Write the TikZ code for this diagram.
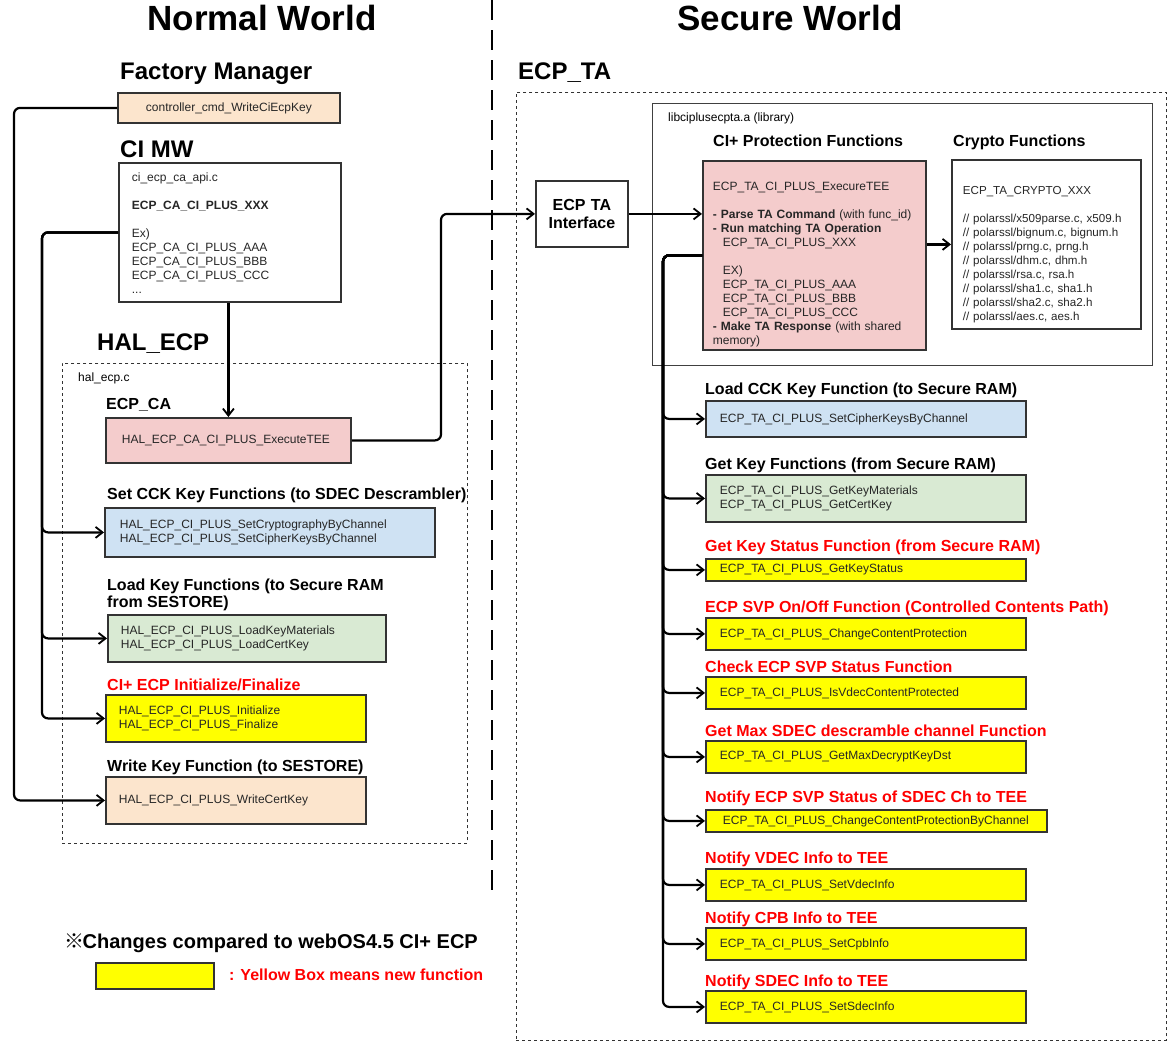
\documentclass[tikz,border=0pt]{standalone}
\usepackage{fontspec}
\setmainfont{Liberation Sans}
\newfontfamily\cjk{Noto Sans CJK JP}
\usetikzlibrary{arrows.meta}
\definecolor{peach}{HTML}{FCE5CD}
\definecolor{pinkf}{HTML}{F4CCCC}
\definecolor{bluef}{HTML}{CFE2F3}
\definecolor{greenf}{HTML}{D9EAD3}
\definecolor{yel}{HTML}{FFFF00}
\definecolor{bord}{HTML}{333333}
\definecolor{redt}{HTML}{FF0000}
\newcommand\fsz[2]{\fontsize{#1}{#2}\selectfont}
\tikzset{
  bx/.style={draw=bord, line width=1.8pt, anchor=north west, inner ysep=0pt, align=left, text=black!85, font=\fsz{12}{14}},
  hdbig/.style={anchor=base, font=\bfseries\fsz{35}{40}},
  hdmid/.style={anchor=base west, inner sep=0pt, font=\bfseries\fsz{24}{28}},
  hdsm/.style={anchor=base west, inner sep=0pt, font=\bfseries\fsz{16}{18}, align=left},
  hdred/.style={hdsm, text=redt},
  small/.style={anchor=base west, inner sep=0pt, font=\fsz{12}{14}},
  dbox/.style={draw=black!80, line width=0.9pt, dash pattern=on 3pt off 3pt, anchor=north west, inner sep=0pt},
  conn/.style={draw=black, line width=2.2pt, rounded corners=6pt, -{Straight Barb[length=7pt,width=11pt,line width=1.8pt]}},
}
\begin{document}
\begin{tikzpicture}[x=1pt,y=-1pt]
\useasboundingbox (0,0) rectangle (1172,1052);
\fill[white] (0,0) rectangle (1172,1052);

% titles
\node[hdbig] (nw) at (262,30) {Normal World};
\node[hdbig] (sw) at (790,30) {Secure World};
\draw[line width=2pt, dash pattern=on 20pt off 10pt] (492,0) -- (492,895);

% ---------- Normal world ----------
\node[hdmid] (fmlab) at (120,79) {Factory Manager};
\node[bx, fill=peach, minimum width=222pt, minimum height=30pt, text width=222pt, inner xsep=0pt, align=center] (ctrl) at (117,92) {controller\_cmd\_WriteCiEcpKey};

\node[hdmid] (cimwlab) at (120,157) {CI MW};
\node[bx, fill=white, minimum height=139pt, text width=196pt, inner xsep=13pt] (cimw) at (118,162)
 {\rule{0pt}{11pt}ci\_ecp\_ca\_api.c\\[14pt]\textbf{ECP\_CA\_CI\_PLUS\_XXX}\\[14pt]Ex)\\ECP\_CA\_CI\_PLUS\_AAA\\ECP\_CA\_CI\_PLUS\_BBB\\ECP\_CA\_CI\_PLUS\_CCC\\...};

\node[hdmid] (hallab) at (97,350) {HAL\_ECP};
\node[dbox, minimum width=405pt, minimum height=480pt] (hal) at (62,363) {};
\node[small] (halc) at (78,381) {hal\_ecp.c};

\node[hdsm] (ecpcalab) at (106,409) {ECP\_CA};
\node[bx, fill=pinkf, minimum height=45pt, text width=213pt, inner xsep=16pt] (ecpca) at (105,417) {HAL\_ECP\_CA\_CI\_PLUS\_ExecuteTEE};

\node[hdsm] (cckl) at (107,499) {Set CCK Key Functions (to SDEC Descrambler)};
\node[bx, fill=bluef, minimum height=49pt, text width=300pt, inner xsep=15pt] (cck) at (104,507) {HAL\_ECP\_CI\_PLUS\_SetCryptographyByChannel\\HAL\_ECP\_CI\_PLUS\_SetCipherKeysByChannel};

\node[hdsm] (loadl) at (107,590) {Load Key Functions (to Secure RAM};
\node[hdsm] (loadl2) at (107,607) {from SESTORE)};
\node[bx, fill=greenf, minimum height=47pt, text width=252pt, inner xsep=13pt] (load) at (107,614) {HAL\_ECP\_CI\_PLUS\_LoadKeyMaterials\\HAL\_ECP\_CI\_PLUS\_LoadCertKey};

\node[hdred] (initl) at (107,690) {CI+ ECP Initialize/Finalize};
\node[bx, fill=yel, minimum height=47pt, text width=234pt, inner xsep=13pt] (init) at (105,694) {HAL\_ECP\_CI\_PLUS\_Initialize\\HAL\_ECP\_CI\_PLUS\_Finalize};

\node[hdsm] (wrl) at (107,771) {Write Key Function (to SESTORE)};
\node[bx, fill=peach, minimum height=47pt, text width=234pt, inner xsep=13pt] (wr) at (105,776) {HAL\_ECP\_CI\_PLUS\_WriteCertKey};

% legend
\node[anchor=base west, inner sep=0pt, font=\bfseries\fsz{20}{24}] (legt) at (64,948) {{\cjk\fsz{20}{22}※}\hspace{-1.5pt}Changes compared to webOS4.5 CI+ ECP};
\node[bx, fill=yel, minimum width=118pt, minimum height=26pt, text width=118pt, inner xsep=0pt] (legbox) at (95,962) {};
\node[hdred] (legtxt) at (229,980) {: Yellow Box means new function};

% ---------- Secure world ----------
\node[hdmid] (tal) at (518,79) {ECP\_TA};
\node[dbox, minimum width=650pt, minimum height=948pt] (ta) at (516,92) {};

\node[bx, fill=white, minimum width=92pt, minimum height=66pt, text width=92pt, inner xsep=0pt, align=center, font=\bfseries\fsz{16}{18}, text=black] (iface) at (535,180) {ECP TA\\Interface};

\node[draw=black!75, line width=0.9pt, anchor=north west, inner sep=0pt, minimum width=500pt, minimum height=262pt] (lib) at (652,103) {};
\node[small] (libl) at (668,121) {libciplusecpta.a (library)};
\node[hdsm] (cipl) at (713,146) {CI+ Protection Functions};
\node[hdsm] (crl) at (953,146) {Crypto Functions};

\node[bx, fill=pinkf, minimum height=189pt, text width=203pt, inner xsep=10pt] (pink) at (702,160)
 {\rule{0pt}{26pt}ECP\_TA\_CI\_PLUS\_ExecureTEE\\[14pt]
  \textbf{- Parse TA Command} (with func\_id)\\
  \textbf{- Run matching TA Operation}\\
  \hspace*{10pt}ECP\_TA\_CI\_PLUS\_XXX\\[14pt]
  \hspace*{10pt}EX)\\
  \hspace*{10pt}ECP\_TA\_CI\_PLUS\_AAA\\
  \hspace*{10pt}ECP\_TA\_CI\_PLUS\_BBB\\
  \hspace*{10pt}ECP\_TA\_CI\_PLUS\_CCC\\
  \textbf{- Make TA Response} (with shared\\
  memory)};

\node[bx, fill=white, minimum height=169pt, text width=167pt, inner xsep=11pt, font=\fsz{11.6}{14}] (crypto) at (951,159)
 {\rule{0pt}{29pt}ECP\_TA\_CRYPTO\_XXX\\[14pt]
  // polarssl/x509parse.c, x509.h\\
  // polarssl/bignum.c, bignum.h\\
  // polarssl/prng.c, prng.h\\
  // polarssl/dhm.c, dhm.h\\
  // polarssl/rsa.c, rsa.h\\
  // polarssl/sha1.c, sha1.h\\
  // polarssl/sha2.c, sha2.h\\
  // polarssl/aes.c, aes.h};

% right function boxes
\node[hdsm] (h1) at (705,394) {Load CCK Key Function (to Secure RAM)};
\node[bx, fill=bluef, minimum height=36pt, text width=292pt, inner xsep=14pt] (b1) at (705,400) {ECP\_TA\_CI\_PLUS\_SetCipherKeysByChannel};
\node[hdsm] (h2) at (705,469) {Get Key Functions (from Secure RAM)};
\node[bx, fill=greenf, minimum height=47pt, text width=292pt, inner xsep=14pt] (b2) at (705,474) {ECP\_TA\_CI\_PLUS\_GetKeyMaterials\\ECP\_TA\_CI\_PLUS\_GetCertKey};
\node[hdred] (h3) at (705,551) {Get Key Status Function (from Secure RAM)};
\node[bx, fill=yel, minimum height=22pt, text width=292pt, inner xsep=14pt] (b3) at (705,558) {ECP\_TA\_CI\_PLUS\_GetKeyStatus};
\node[hdred] (h4) at (705,612) {ECP SVP On/Off Function (Controlled Contents Path)};
\node[bx, fill=yel, minimum height=32pt, text width=292pt, inner xsep=14pt] (b4) at (705,617) {ECP\_TA\_CI\_PLUS\_ChangeContentProtection};
\node[hdred] (h5) at (705,672) {Check ECP SVP Status Function};
\node[bx, fill=yel, minimum height=32pt, text width=292pt, inner xsep=14pt] (b5) at (705,676) {ECP\_TA\_CI\_PLUS\_IsVdecContentProtected};
\node[hdred] (h6) at (705,736) {Get Max SDEC descramble channel Function};
\node[bx, fill=yel, minimum height=32pt, text width=292pt, inner xsep=14pt] (b6) at (705,740) {ECP\_TA\_CI\_PLUS\_GetMaxDecryptKeyDst};
\node[hdred] (h7) at (705,802) {Notify ECP SVP Status of SDEC Ch to TEE};
\node[bx, fill=yel, minimum height=22pt, text width=307pt, inner xsep=17pt] (b7) at (705,809) {ECP\_TA\_CI\_PLUS\_ChangeContentProtectionByChannel};
\node[hdred] (h8) at (705,863) {Notify VDEC Info to TEE};
\node[bx, fill=yel, minimum height=32pt, text width=292pt, inner xsep=14pt] (b8) at (705,868) {ECP\_TA\_CI\_PLUS\_SetVdecInfo};
\node[hdred] (h9) at (705,923) {Notify CPB Info to TEE};
\node[bx, fill=yel, minimum height=32pt, text width=292pt, inner xsep=14pt] (b9) at (705,927) {ECP\_TA\_CI\_PLUS\_SetCpbInfo};
\node[hdred] (h10) at (705,986) {Notify SDEC Info to TEE};
\node[bx, fill=yel, minimum height=32pt, text width=292pt, inner xsep=14pt] (b10) at (705,990) {ECP\_TA\_CI\_PLUS\_SetSdecInfo};

% ---------- connectors ----------
\coordinate (lx) at (14,0);
\coordinate (cx) at (42,0);
\coordinate (mx) at (441,0);
\coordinate (rx) at (663,0);

\draw[conn] (ctrl.west) -- (ctrl.west -| lx) |- (wr.west);
\draw[conn] (cimw.west) -- (cimw.west -| cx) |- (cck.west);
\draw[conn] (cimw.west) -- (cimw.west -| cx) |- (load.west);
\draw[conn] (cimw.west) -- (cimw.west -| cx) |- (init.west);
\draw[conn] (cimw.south -| ecpca.north) -- (ecpca.north);
\draw[conn] (ecpca.east) -- (ecpca.east -| mx) |- (iface.west);
\draw[conn] (iface.east) -- (iface.east -| pink.west);
\draw[conn] (crypto.west -| pink.east) -- (crypto.west);
\foreach \b in {b1,b2,b3,b4,b5,b6,b7,b8,b9,b10}{
  \draw[conn] (pink.west) -- (pink.west -| rx) |- (\b.west);
}
\end{tikzpicture}
\end{document}
